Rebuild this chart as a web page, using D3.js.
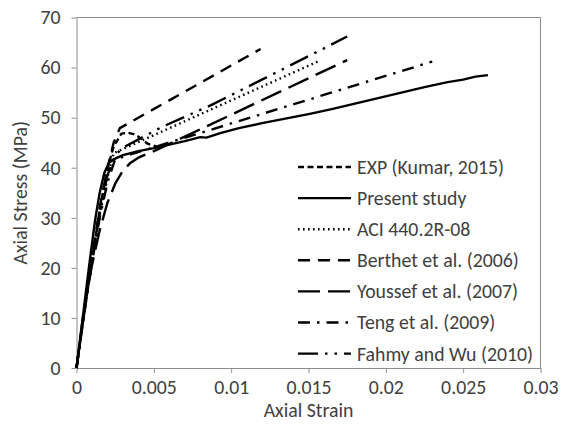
<!DOCTYPE html>
<html>
<head>
<meta charset="utf-8">
<script src="https://cdn.jsdelivr.net/npm/d3@7"></script>
<style>
  html, body { margin: 0; padding: 0; background: #fff; }
  svg { display: block; font-family: Carlito, Lato, "Open Sans", sans-serif; }
</style>
</head>
<body>
<svg id="chart" width="568" height="426"></svg>
<script>
// Axial stress–strain curves of FRP-confined concrete: test vs. models
const seriesNames = [
  "EXP (Kumar, 2015)",
  "Present study",
  "ACI 440.2R-08",
  "Berthet et al. (2006)",
  "Youssef et al. (2007)",
  "Teng et al. (2009)",
  "Fahmy and Wu (2010)"
];

const expStrain = [0, 0.0005, 0.001, 0.0015, 0.0019, 0.0022, 0.0024, 0.0029, 0.0033, 0.0037, 0.004, 0.0046, 0.0052];
const expStress = [0, 11, 21.5, 31.5, 38.5, 42, 44.2, 46.8, 47, 46.7, 46.2, 44.8, 44.2];

const presentStrain = [0, 0.0004, 0.0008, 0.0012, 0.0015, 0.0018, 0.0021, 0.0025, 0.003, 0.004, 0.005, 0.006, 0.007, 0.008, 0.0084, 0.0093, 0.0105, 0.012, 0.0135, 0.015, 0.0165, 0.018, 0.0195, 0.021, 0.0225, 0.024, 0.025, 0.0258, 0.0266];
const presentStress = [0, 10, 20, 29.5, 35, 39, 41, 41.8, 42.5, 43.3, 43.9, 44.6, 45.3, 46.1, 46.0, 46.9, 47.9, 48.9, 49.8, 50.7, 51.7, 52.8, 53.9, 55.0, 56.1, 57.1, 57.6, 58.2, 58.5];

const aciStrain = [0, 0.0005, 0.001, 0.0015, 0.002, 0.0024, 0.0156];
const aciStress = [0, 11, 21.5, 30.5, 38, 42.9, 61.2];

const berthetStrain = [0, 0.0005, 0.001, 0.0015, 0.002, 0.0024, 0.0028, 0.0119];
const berthetStress = [0, 11.5, 22, 32, 40, 45, 47.9, 63.7];

const youssefStrain = [0, 0.0005, 0.001, 0.0015, 0.002, 0.0025, 0.003, 0.0035, 0.004, 0.0045, 0.005, 0.0175];
const youssefStress = [0, 12, 20.5, 27.5, 33, 36.8, 39.4, 41, 42, 42.7, 43.3, 61.5];

const tengStrain = [0, 0.0005, 0.001, 0.0015, 0.002, 0.0025, 0.023];
const tengStress = [0, 11, 21, 30, 37, 41.7, 61.2];

const fahmyStrain = [0, 0.0005, 0.001, 0.0015, 0.002, 0.0025, 0.003, 0.0055, 0.0087, 0.0129, 0.0161, 0.0175];
const fahmyStress = [0, 11, 21.5, 31, 38.5, 42.5, 44, 48.1, 52.5, 59, 64, 66.2];

const xTicks = [0, 0.005, 0.01, 0.015, 0.02, 0.025, 0.03];
const xTickLabels = ["0", "0.005", "0.01", "0.015", "0.02", "0.025", "0.03"];
const yTicks = [0, 10, 20, 30, 40, 50, 60, 70];
const yTickLabels = ["0", "10", "20", "30", "40", "50", "60", "70"];

const strainSets = [expStrain, presentStrain, aciStrain, berthetStrain, youssefStrain, tengStrain, fahmyStrain];
const stressSets = [expStress, presentStress, aciStress, berthetStress, youssefStress, tengStress, fahmyStress];

// line dash pattern for each series, in the same order as the names
const dashStyles = ["6,3.5", null, "1.6,3.4", "12,8", "22,8", "12,7,2.5,7", "20,7,2.5,7,2.5,7"];

const series = seriesNames.map((name, i) => ({
  name,
  dash: dashStyles[i],
  points: strainSets[i].map((e, j) => ({ strain: e, stress: stressSets[i][j] }))
}));

const svg = d3.select("#chart");
const plotLeft = 76.5, plotRight = 540.5, plotTop = 17.5, plotBottom = 368;

const x = d3.scaleLinear().domain([0, 0.03]).range([plotLeft, plotRight]);
const y = d3.scaleLinear().domain([0, 70]).range([plotBottom, plotTop]);

const axisColor = "#8c8c8c";
const textColor = "#404040";
const fontSize = 19.8;

// plot border (top and right)
svg.append("path")
  .attr("d", `M${plotLeft},${plotTop}H${plotRight}V${plotBottom}`)
  .attr("fill", "none")
  .attr("stroke", axisColor)
  .attr("stroke-width", 1);

const xAxis = svg.append("g")
  .attr("transform", `translate(0,${plotBottom})`)
  .call(d3.axisBottom(x).tickValues(xTicks).tickFormat((d, i) => xTickLabels[i]).tickSize(5).tickSizeOuter(0).tickPadding(6.5));

const yAxis = svg.append("g")
  .attr("transform", `translate(${plotLeft},0)`)
  .call(d3.axisLeft(y).tickValues(yTicks).tickFormat((d, i) => yTickLabels[i]).tickSize(5).tickSizeOuter(0).tickPadding(11));

[xAxis, yAxis].forEach(g => {
  g.select(".domain").attr("stroke", axisColor);
  g.selectAll(".tick line").attr("stroke", axisColor);
  g.selectAll(".tick text")
    .attr("fill", textColor)
    .style("font-size", fontSize + "px")
    .style("font-family", "Carlito, Lato, sans-serif");
});

// curves
const line = d3.line().x(d => x(d.strain)).y(d => y(d.stress));

svg.append("g").selectAll("path")
  .data(series)
  .join("path")
  .attr("d", d => line(d.points))
  .attr("fill", "none")
  .attr("stroke", "#000")
  .attr("stroke-width", 2.4)
  .attr("stroke-linejoin", "round")
  .attr("stroke-dasharray", d => d.dash);

// axis titles
svg.append("text")
  .attr("x", (plotLeft + plotRight) / 2)
  .attr("y", 417)
  .attr("text-anchor", "middle")
  .attr("fill", textColor)
  .style("font-size", fontSize + "px")
  .text("Axial Strain");

svg.append("text")
  .attr("transform", `translate(27,${(plotTop + plotBottom) / 2}) rotate(-90)`)
  .attr("text-anchor", "middle")
  .attr("fill", textColor)
  .style("font-size", fontSize + "px")
  .text("Axial Stress (MPa)");

// legend
const legend = svg.append("g");
const legendTop = 167, legendStep = 31.1;
const item = legend.selectAll("g")
  .data(series)
  .join("g")
  .attr("transform", (d, i) => `translate(0,${legendTop + i * legendStep})`);

item.append("line")
  .attr("x1", 298).attr("x2", 351)
  .attr("y1", 0).attr("y2", 0)
  .attr("stroke", "#000")
  .attr("stroke-width", 2.4)
  .attr("stroke-dasharray", d => d.dash);

item.append("text")
  .attr("x", 357)
  .attr("dy", "0.35em")
  .attr("fill", textColor)
  .style("font-size", fontSize + "px")
  .text(d => d.name);
</script>
</body>
</html>
